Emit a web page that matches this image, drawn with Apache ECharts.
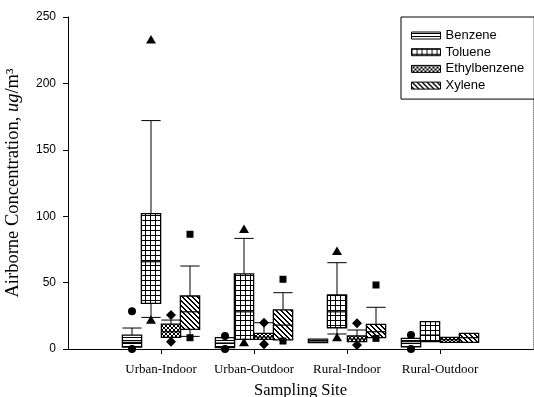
<!DOCTYPE html>
<html>
<head>
<meta charset="utf-8">
<script src="https://cdn.jsdelivr.net/npm/echarts@6/dist/echarts.min.js"></script>
<style>
  html, body { margin: 0; padding: 0; background: #fff; }
  #chart { width: 534px; height: 397px; }
</style>
</head>
<body>
<div id="chart"></div>
<script>
// Sampling sites (x categories) and measured compounds
const sites = ['Urban-Indoor', 'Urban-Outdoor', 'Rural-Indoor', 'Rural-Outdoor'];
const compounds = ['Benzene', 'Toluene', 'Ethylbenzene', 'Xylene'];
const yTicks = [0, 50, 100, 150, 200, 250];

// Box statistics per site: [lower whisker, Q1, median, Q3, upper whisker] (ug/m3)
const benzeneBox = [[1.5, 1.5, 5, 10.5, 15.8], [1, 1, 4.5, 8.5, 8.5], [4.8, 4.8, 6, 7.5, 7.5], [1.7, 1.7, 5.5, 8, 8]];
const tolueneBox = [[23.8, 34.4, 65.7, 102, 172], [7.3, 7.3, 28, 56.5, 83.3], [11.3, 16, 28, 40.7, 65], [5.5, 5.5, 10.5, 20.6, 20.6]];
const ethylbenzeneBox = [[8.8, 8.8, 13, 18.8, 21.8], [7.3, 7.3, 9, 11.8, 19.8], [5.5, 5.5, 7.5, 9.8, 14.3], [5, 5, 7, 8.8, 8.8]];
const xyleneBox = [[9.5, 14.8, 28, 39.9, 62.5], [6.8, 6.8, 18, 29.4, 42.4], [8.5, 8.5, 13, 18.6, 31.4], [5, 5, 8.5, 11.8, 11.8]];

// Outlying points per site: [high, low]; null where none is drawn
const benzeneOut = [[28.5, 0], [9.8, 0], [null, null], [10.5, 0]];
const tolueneOut = [[233, 22], [90.3, 5], [73.8, 8.8], [null, null]];
const ethylbenzeneOut = [[25.6, 5.5], [19.8, 3.5], [19.3, 3], [null, null]];
const xyleneOut = [[86.4, 8.5], [52.5, 6], [48.2, 8], [null, null]];

const boxSets = [benzeneBox, tolueneBox, ethylbenzeneBox, xyleneBox];
const outSets = [benzeneOut, tolueneOut, ethylbenzeneOut, xyleneOut];
const markerShapes = ['circle', 'triangle', 'diamond', 'square'];

// Monochrome fill patterns, one per compound
function makeTile(w, h, draw) {
  const c = document.createElement('canvas');
  c.width = w; c.height = h;
  const ctx = c.getContext('2d');
  ctx.fillStyle = '#fff';
  ctx.fillRect(0, 0, w, h);
  ctx.fillStyle = '#000';
  draw(ctx, w, h);
  return { image: c, repeat: 'repeat' };
}
const patterns = [
  // horizontal fine lines
  makeTile(2, 3, (ctx) => { ctx.fillRect(0, 1, 2, 1); }),
  // square grid
  makeTile(5, 5, (ctx) => { ctx.fillRect(0, 0, 5, 1); ctx.fillRect(0, 0, 1, 5); }),
  // dense cross-hatch
  makeTile(4, 4, (ctx) => {
    for (let i = 0; i < 4; i++) { ctx.fillRect(i, i, 1, 1); ctx.fillRect(3 - i, i, 1, 1); }
  }),
  // back-slash diagonal stripes
  makeTile(5, 5, (ctx) => {
    for (let i = 0; i < 5; i++) { ctx.fillRect(i, i, 1, 1); ctx.fillRect((i + 1) % 5, i, 1, 1); }
  })
];

function markerShape(kind, cx, cy) {
  const st = { fill: '#000', stroke: null };
  if (kind === 'circle') return { type: 'circle', shape: { cx: cx, cy: cy, r: 4 }, style: st };
  if (kind === 'square') return { type: 'rect', shape: { x: cx - 3.5, y: cy - 3.5, width: 7, height: 7 }, style: st };
  if (kind === 'triangle') return { type: 'polygon', shape: { points: [[cx, cy - 4.5], [cx + 5, cy + 4], [cx - 5, cy + 4]] }, style: st };
  return { type: 'polygon', shape: { points: [[cx, cy - 5], [cx + 5, cy], [cx, cy + 5], [cx - 5, cy]] }, style: st };
}

function makeRender(k) {
  return function (params, api) {
    const cat = api.value(0);
    const xc = api.coord([cat, 0])[0];
    const band = api.size([1, 0])[0];
    const bw = band * 0.207;
    const x = Math.round(xc + (k - 1.5) * bw);
    const y = (v) => api.coord([cat, v])[1];
    const lo = api.value(1), q1 = api.value(2), md = api.value(3), q3 = api.value(4), hi = api.value(5);
    const oh = api.value(6), ol = api.value(7);
    const line = { stroke: '#000', lineWidth: 1 };
    const kids = [];
    if (hi > q3) {
      kids.push({ type: 'line', shape: { x1: x, y1: y(q3), x2: x, y2: y(hi) }, style: line });
      kids.push({ type: 'line', shape: { x1: x - bw / 2, y1: y(hi), x2: x + bw / 2, y2: y(hi) }, style: line });
    }
    if (lo < q1) {
      kids.push({ type: 'line', shape: { x1: x, y1: y(q1), x2: x, y2: y(lo) }, style: line });
      kids.push({ type: 'line', shape: { x1: x - bw / 2, y1: y(lo), x2: x + bw / 2, y2: y(lo) }, style: line });
    }
    kids.push({
      type: 'rect',
      shape: { x: x - bw / 2, y: y(q3), width: bw, height: y(q1) - y(q3) },
      style: { fill: patterns[k], stroke: '#000', lineWidth: 1.3 }
    });
    kids.push({ type: 'line', shape: { x1: x - bw / 2, y1: y(md), x2: x + bw / 2, y2: y(md) }, style: { stroke: '#000', lineWidth: 1.2 } });
    if (!isNaN(oh)) kids.push(markerShape(markerShapes[k], x, y(oh)));
    if (!isNaN(ol)) kids.push(markerShape(markerShapes[k], x, y(ol)));
    return { type: 'group', children: kids };
  };
}

const series = compounds.map((name, k) => ({
  name: name,
  type: 'custom',
  renderItem: makeRender(k),
  itemStyle: { color: patterns[k], borderColor: '#000', borderWidth: 1 },
  encode: { x: 0, y: [1, 2, 3, 4, 5] },
  clip: false,
  data: sites.map((s, i) => {
    const b = boxSets[k][i];
    const o = outSets[k][i];
    return [i + 1, b[0], b[1], b[2], b[3], b[4], o[0] == null ? '-' : o[0], o[1] == null ? '-' : o[1]];
  })
}));

const chart = echarts.init(document.getElementById('chart'), null, { renderer: 'canvas' });
chart.setOption({
  animation: false,
  backgroundColor: '#fff',
  grid: { left: 68, right: 1, top: 17, bottom: 48, outerBoundsMode: 'none', containLabel: false },
  legend: {
    orient: 'vertical',
    left: 401,
    top: 17,
    padding: [12, 10, 7, 10],
    itemWidth: 29,
    itemHeight: 7,
    itemGap: 3.7,
    borderColor: '#000',
    borderWidth: 1,
    backgroundColor: '#fff',
    textStyle: { fontFamily: 'Liberation Sans', fontSize: 13, color: '#000' },
    data: compounds.map((n, k) => ({
      name: n,
      icon: 'rect',
      itemStyle: { color: patterns[k], borderColor: '#000', borderWidth: 1 }
    }))
  },
  xAxis: [{
    type: 'category',
    boundaryGap: false,
    data: [''].concat(sites, ['']),
    name: 'Sampling Site',
    nameLocation: 'middle',
    nameGap: 33,
    nameTextStyle: { fontFamily: 'Liberation Serif', fontSize: 16.5, color: '#000' },
    axisLine: { lineStyle: { color: '#000', width: 1 } },
    axisTick: { length: 5, lineStyle: { color: '#000' }, interval: (i) => i >= 1 && i <= sites.length },
    axisLabel: { interval: 0, margin: 14, fontFamily: 'Liberation Serif', fontSize: 13, color: '#000' },
    splitLine: { show: false }
  }, {
    // top frame line
    type: 'category',
    position: 'top',
    boundaryGap: false,
    data: [''].concat(sites, ['']),
    axisLine: { lineStyle: { color: '#000', width: 1 } },
    axisTick: { show: false },
    axisLabel: { show: false }
  }],
  yAxis: [{
    type: 'value',
    min: yTicks[0],
    max: yTicks[yTicks.length - 1],
    interval: 50,
    name: '{a|Airborne Concentration, }{i|ug}{a|/m³}',
    nameLocation: 'middle',
    nameGap: 45,
    nameTextStyle: {
      rich: {
        a: { fontFamily: 'Liberation Serif', fontSize: 18.5, color: '#000' },
        i: { fontFamily: 'Liberation Serif', fontSize: 18.5, fontStyle: 'italic', color: '#000' }
      }
    },
    axisLine: { show: true, lineStyle: { color: '#000', width: 1 } },
    axisTick: { show: true, length: 5, lineStyle: { color: '#000' } },
    axisLabel: { margin: 12, fontFamily: 'Liberation Sans', fontSize: 12, color: '#000' },
    splitLine: { show: false }
  }, {
    // faint right frame line
    type: 'value',
    position: 'right',
    min: yTicks[0],
    max: yTicks[yTicks.length - 1],
    axisLine: { show: true, lineStyle: { color: '#888', width: 1, type: 'dotted' } },
    axisTick: { show: false },
    axisLabel: { show: false },
    splitLine: { show: false }
  }],
  series: series
});
</script>
</body>
</html>
